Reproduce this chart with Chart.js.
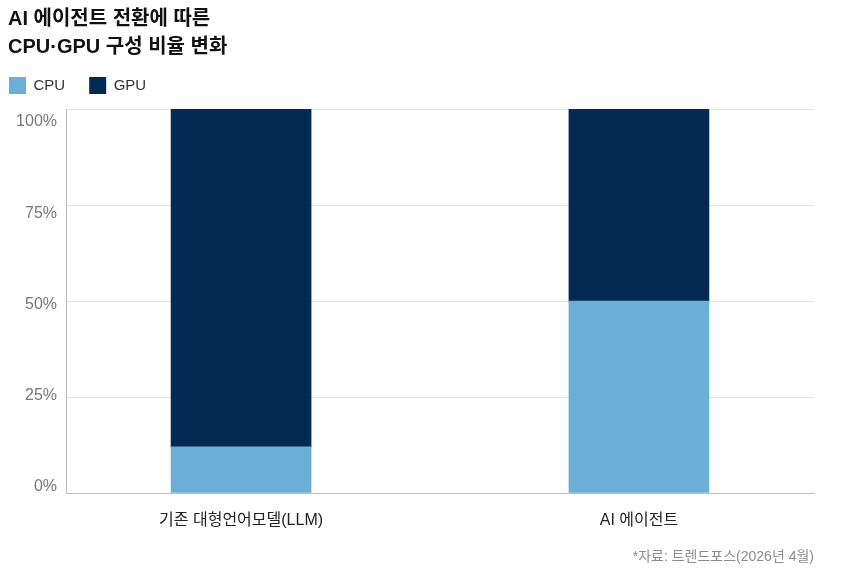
<!DOCTYPE html>
<html>
<head>
<meta charset="utf-8">
<script src="https://cdn.jsdelivr.net/npm/chart.js@4/dist/chart.umd.min.js"></script>
<style>
html,body{margin:0;padding:0;background:#fff;}
#wrap{width:861px;height:576px;position:relative;}
</style>
</head>
<body>
<div id="wrap"><canvas id="c" width="861" height="576"></canvas></div>
<script>
const titleLines = ['AI 에이전트 전환에 따른', 'CPU·GPU 구성 비율 변화'];
const categories = ['기존 대형언어모델(LLM)', 'AI 에이전트'];
const cpuValues = [12, 50];
const gpuValues = [88, 50];
const yTicks = [0, 25, 50, 75, 100];
const sourceText = '*자료: 트렌드포스(2026년 4월)';

const FONT = "'Liberation Sans', 'Noto Sans CJK KR', sans-serif";

const toPoints = vals => vals.map((v, i) => ({x: i, y: v}));

// Legend placement tweak: fixed legend height, shifted draw position
const legendTweak = {
  id: 'legendTweak',
  beforeLayout(chart) {
    const lg = chart.legend;
    if (lg && !lg._tweaked) {
      const orig = lg.fit;
      lg.fit = function() { orig.call(this); this.height = 48; };
      lg._tweaked = true;
    }
  },
  afterLayout(chart) {
    const lg = chart.legend;
    if (lg) {
      const h = lg.height;
      lg.left = -15;
      lg.top = 53;
      lg.bottom = lg.top + h;
    }
  }
};

new Chart(document.getElementById('c'), {
  type: 'bar',
  data: {
    datasets: [
      {label: 'CPU', data: toPoints(cpuValues), backgroundColor: '#6baed6', barThickness: 140},
      {label: 'GPU', data: toPoints(gpuValues), backgroundColor: '#022a53', barThickness: 140}
    ]
  },
  plugins: [legendTweak],
  options: {
    responsive: false,
    animation: false,
    devicePixelRatio: 1,
    layout: {padding: {left: 8, right: 47, top: 5, bottom: 10}},
    plugins: {
      title: {
        display: true,
        text: titleLines,
        align: 'start',
        color: '#111',
        font: {family: FONT, size: 20, weight: 'bold', lineHeight: 1.4},
        padding: {top: 0, bottom: 0}
      },
      subtitle: {
        display: true,
        text: sourceText,
        position: 'bottom',
        align: 'end',
        color: '#8c8c8c',
        font: {family: FONT, size: 14},
        padding: {top: 1, bottom: 0}
      },
      legend: {
        display: true,
        align: 'start',
        labels: {
          boxWidth: 17,
          boxHeight: 17,
          color: '#333',
          font: {family: FONT, size: 15},
          padding: 24
        }
      },
      tooltip: {enabled: false}
    },
    scales: {
      x: {
        type: 'linear',
        stacked: true,
        offset: false,
        min: -0.44,
        max: 1.44,
        afterBuildTicks: s => { s.ticks = categories.map((c, i) => ({value: i})); },
        ticks: {
          callback: v => categories[v],
          color: '#222',
          font: {family: FONT, size: 16},
          padding: 18
        },
        grid: {display: false, drawTicks: false, offset: false},
        border: {display: true, color: '#bdbdbd'}
      },
      y: {
        stacked: true,
        min: 0,
        max: 100,
        weight: 0,
        afterBuildTicks: s => { s.ticks = yTicks.map(v => ({value: v})); },
        afterFit: s => { s.width = 0; },
        ticks: {display: false},
        grid: {color: '#e4e4e4', drawTicks: false},
        border: {display: true, color: '#bdbdbd'}
      },
      yLabels: {
        type: 'linear',
        position: 'left',
        weight: 1,
        min: -1.65,
        max: 103.55,
        afterBuildTicks: s => { s.ticks = yTicks.map(v => ({value: v})); },
        afterFit: s => { s.width = 58; },
        ticks: {
          callback: v => v + '%',
          color: '#777',
          font: {family: FONT, size: 16},
          padding: 9
        },
        grid: {display: false, drawTicks: false},
        border: {display: false}
      }
    }
  }
});
</script>
</body>
</html>
